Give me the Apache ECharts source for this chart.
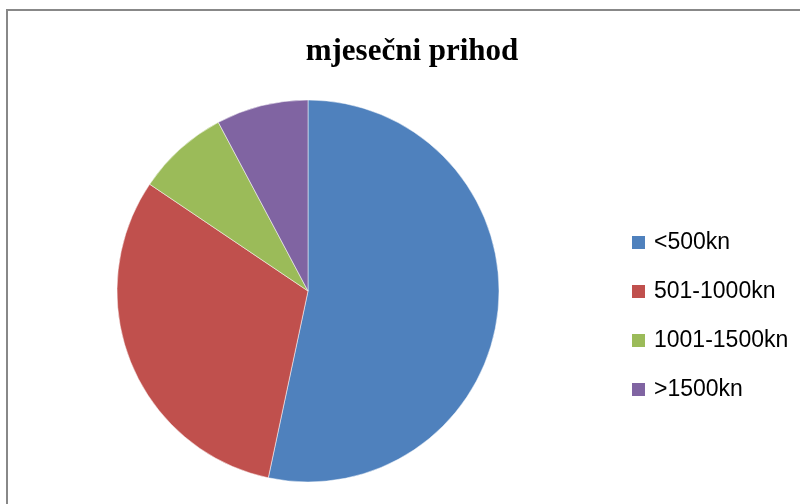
<!DOCTYPE html>
<html>
<head>
<meta charset="utf-8">
<script src="https://cdn.jsdelivr.net/npm/echarts@6/dist/echarts.min.js"></script>
<style>
html,body{margin:0;padding:0;background:#fff;}
#chart{width:800px;height:504px;}
</style>
</head>
<body>
<div id="chart"></div>
<script>
const titleText = 'mjesečni prihod';
const categories = ['<500kn', '501-1000kn', '1001-1500kn', '>1500kn'];
const values = [48, 28, 7, 7];
const colors = ['#4F81BD', '#C0504D', '#9BBB59', '#8064A2'];

const chart = echarts.init(document.getElementById('chart'), null, {renderer: 'canvas'});
chart.setOption({
  animation: false,
  backgroundColor: '#ffffff',
  title: {
    text: titleText,
    left: 410,
    textAlign: 'center',
    top: 31,
    textStyle: {
      fontFamily: 'Liberation Serif',
      fontWeight: 'bold',
      fontSize: 31,
      color: '#000'
    }
  },
  graphic: [{
    type: 'rect',
    shape: {x: 7, y: 10, width: 1000, height: 1000},
    style: {fill: 'none', stroke: '#888888', lineWidth: 2},
    silent: true
  }],
  legend: {
    orient: 'vertical',
    left: 625,
    top: 226,
    icon: 'rect',
    itemWidth: 15,
    itemHeight: 15,
    itemGap: 26,
    data: categories,
    textStyle: {
      fontFamily: 'Liberation Sans',
      fontSize: 23,
      color: '#000',
      padding: [0, 0, 0, 3]
    }
  },
  series: [{
    type: 'pie',
    center: [308, 291],
    radius: 191,
    startAngle: 90,
    clockwise: true,
    label: {show: false},
    labelLine: {show: false},
    emphasis: {disabled: true},
    itemStyle: {borderColor: '#ffffff', borderWidth: 0.5},
    data: categories.map((c, i) => ({name: c, value: values[i], itemStyle: {color: colors[i]}}))
  }]
});
chart.setOption({title: {left: 407}});
</script>
</body>
</html>
